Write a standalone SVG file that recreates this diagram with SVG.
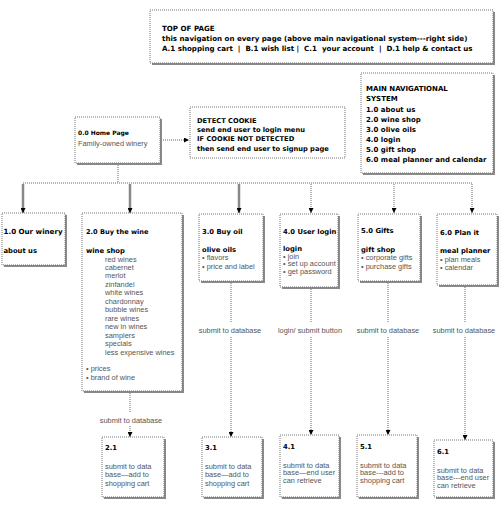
<svg xmlns="http://www.w3.org/2000/svg" width="500" height="505" viewBox="0 0 500 505">
<defs>
<marker id="arr" markerUnits="userSpaceOnUse" markerWidth="5" markerHeight="5" refX="5" refY="2.5" orient="auto" viewBox="0 0 5 5">
<path d="M0,0 L5,2.5 L0,5 Z" fill="#000"/>
</marker>
</defs>
<style>
.shadow{fill:#8a8a8a}
.box{fill:#fff;stroke:#777;stroke-width:1;stroke-dasharray:1 1}
.b{font-family:"DejaVu Sans",Verdana,sans-serif;font-weight:bold;font-size:6.8px;fill:#000}
.top{font-size:7.1px}
.nav{font-size:7px}
.ck{font-size:6.7px}
.hp{font-size:6px}
.r{font-family:"Liberation Sans",Arial,sans-serif;font-size:7.4px;fill:#555}
.dot{fill:none;stroke:#666;stroke-width:1;stroke-dasharray:1 1}
.solid{fill:none;stroke:#888;stroke-width:2.5}
</style>
<rect width="500" height="505" fill="#fff"/>

<g id="connectors">
<line class="dot" x1="161" y1="140" x2="189" y2="140" marker-end="url(#arr)"/>
<line class="dot" x1="118" y1="165" x2="118" y2="183"/>
<line class="dot" x1="23" y1="183" x2="473" y2="183"/>
<line class="solid" x1="23" y1="184" x2="23" y2="213" marker-end="url(#arr)"/>
<line class="solid" x1="130" y1="184" x2="130" y2="213" marker-end="url(#arr)"/>
<line class="solid" x1="239" y1="184" x2="239" y2="213" marker-end="url(#arr)"/>
<line class="dot" x1="311" y1="184" x2="311" y2="213" marker-end="url(#arr)"/>
<line class="dot" x1="394" y1="184" x2="394" y2="213" marker-end="url(#arr)"/>
<line class="dot" x1="472" y1="184" x2="472" y2="213" marker-end="url(#arr)"/>
<line class="dot" x1="130" y1="393" x2="130" y2="413"/>
<line class="dot" x1="130" y1="426" x2="130" y2="437" marker-end="url(#arr)"/>
<line class="dot" x1="231" y1="283" x2="231" y2="323"/>
<line class="dot" x1="231" y1="337" x2="231" y2="437" marker-end="url(#arr)"/>
<line class="dot" x1="311" y1="289" x2="311" y2="323"/>
<line class="dot" x1="311" y1="337" x2="311" y2="435" marker-end="url(#arr)"/>
<line class="dot" x1="388" y1="283" x2="388" y2="323"/>
<line class="dot" x1="388" y1="337" x2="388" y2="435" marker-end="url(#arr)"/>
<line class="dot" x1="465" y1="287" x2="465" y2="323"/>
<line class="dot" x1="465" y1="337" x2="465" y2="440" marker-end="url(#arr)"/>
<text class="r" x="131" y="422.5" text-anchor="middle">submit to database</text>
<text class="r" x="230" y="332.5" text-anchor="middle">submit to database</text>
<text class="r" x="310" y="332.5" text-anchor="middle">login/ submit button</text>
<text class="r" x="388" y="332.5" text-anchor="middle">submit to database</text>
<text class="r" x="464" y="332.5" text-anchor="middle">submit to database</text>
</g>

<g id="top-of-page">
<rect class="shadow" x="152" y="12" width="343" height="53"/>
<rect class="box" x="150" y="10" width="343" height="53"/>
<text class="b top" x="162" y="31">TOP OF PAGE</text>
<text class="b top" x="162" y="41">this navigation on every page (above main navigational system---right side)</text>
<text class="b top" x="162" y="50.5" xml:space="preserve">A.1 shopping cart  |  B.1 wish list |  C.1  your account  |  D.1 help &amp; contact us</text>
</g>

<g id="main-nav">
<rect class="shadow" x="363" y="75" width="132" height="100"/>
<rect class="box" x="361" y="73" width="132" height="100"/>
<text class="b nav" x="366" y="91">MAIN NAVIGATIONAL</text>
<text class="b nav" x="366" y="101">SYSTEM</text>
<text class="b nav" x="366" y="111.5">1.0 about us</text>
<text class="b nav" x="366" y="121.5">2.0 wine shop</text>
<text class="b nav" x="366" y="131.5">3.0 olive oils</text>
<text class="b nav" x="366" y="141.5">4.0 login</text>
<text class="b nav" x="366" y="151.5">5.0 gift shop</text>
<text class="b nav" x="366" y="161.5">6.0 meal planner and calendar</text>
</g>

<g id="home">
<rect class="shadow" x="77" y="119" width="85" height="46"/>
<rect class="box" x="75" y="117" width="85" height="46"/>
<text class="b hp" x="78" y="134.5">0.0 Home Page</text>
<text class="r" x="78" y="145.5">Family-owned winery</text>
</g>

<g id="cookie">
<rect class="box" x="190" y="107" width="155" height="51"/>
<text class="b ck" x="197" y="122.5">DETECT COOKIE</text>
<text class="b ck" x="197" y="132">send end user to login menu</text>
<text class="b ck" x="197" y="141">IF COOKIE NOT DETECTED</text>
<text class="b ck" x="197" y="150.5">then send end user to signup page</text>
</g>

<g id="n1-0">
<rect class="shadow" x="4" y="215" width="63" height="52"/>
<rect class="box" x="2" y="213" width="63" height="52"/>
<text class="b" x="3.5" y="234" style="font-size:7.1px">1.0 Our winery</text>
<text class="b" x="3.5" y="252.5">about us</text>
</g>

<g id="n2-0">
<rect class="shadow" x="84" y="215" width="100" height="178"/>
<rect class="box" x="82" y="213" width="100" height="178"/>
<text class="b" x="86" y="234" style="font-size:6.6px">2.0 Buy the wine</text>
<text class="b" x="86" y="252.5">wine shop</text>
<text class="r" x="105" y="261.5">red wines</text>
<text class="r" x="105" y="270">cabernet</text>
<text class="r" x="105" y="278.4">merlot</text>
<text class="r" x="105" y="286.9">zinfandel</text>
<text class="r" x="105" y="295.3">white wines</text>
<text class="r" x="105" y="303.8">chardonnay</text>
<text class="r" x="105" y="312.2">bubble wines</text>
<text class="r" x="105" y="320.7">rare wines</text>
<text class="r" x="105" y="329.1">new in wines</text>
<text class="r" x="105" y="337.6">samplers</text>
<text class="r" x="105" y="346">specials</text>
<text class="r" x="105" y="354.5">less expensive wines</text>
<text class="r" x="86" y="371">• prices</text>
<text class="r" x="86" y="379.5">• brand of wine</text>
</g>

<g id="n3-0">
<rect class="shadow" x="201" y="216" width="64" height="67"/>
<rect class="box" x="199" y="214" width="64" height="67"/>
<text class="b" x="202" y="234">3.0 Buy oil</text>
<text class="b" x="202" y="252">olive oils</text>
<text class="r" x="202" y="260">• flavors</text>
<text class="r" x="202" y="268.5">• price and label</text>
</g>

<g id="n4-0">
<rect class="shadow" x="282" y="216" width="58" height="73"/>
<rect class="box" x="280" y="214" width="58" height="73"/>
<text class="b" x="283" y="234">4.0 User login</text>
<text class="b" x="283" y="250.5">login</text>
<text class="r" x="283" y="258.5">• join</text>
<text class="r" x="283" y="266">• set up account</text>
<text class="r" x="283" y="274">• get password</text>
</g>

<g id="n5-0">
<rect class="shadow" x="360" y="216" width="62" height="67"/>
<rect class="box" x="358" y="214" width="62" height="67"/>
<text class="b" x="361" y="232.5">5.0 Gifts</text>
<text class="b" x="361" y="252">gift shop</text>
<text class="r" x="361" y="260">• corporate gifts</text>
<text class="r" x="361" y="268.5">• purchase gifts</text>
</g>

<g id="n6-0">
<rect class="shadow" x="439" y="216" width="60" height="71"/>
<rect class="box" x="437" y="214" width="60" height="71"/>
<text class="b" x="440" y="235">6.0 Plan it</text>
<text class="b" x="440" y="253">meal planner</text>
<text class="r" x="440" y="261.5">• plan meals</text>
<text class="r" x="440" y="269.5">• calendar</text>
</g>

<g id="n2-1">
<rect class="shadow" x="104" y="439" width="62" height="60"/>
<rect class="box" x="102" y="437" width="62" height="60"/>
<text class="b" x="105" y="449.5">2.1</text>
<text class="r" x="105" y="468.5">submit to data</text>
<text class="r" x="105" y="477">base—add to</text>
<text class="r" x="105" y="485.5">shopping cart</text>
</g>

<g id="n3-1">
<rect class="shadow" x="204" y="439" width="60" height="60"/>
<rect class="box" x="202" y="437" width="60" height="60"/>
<text class="b" x="205" y="449.5">3.1</text>
<text class="r" x="205" y="468.5">submit to data</text>
<text class="r" x="205" y="477">base—add to</text>
<text class="r" x="205" y="485.5">shopping cart</text>
</g>

<g id="n4-1">
<rect class="shadow" x="282" y="437" width="59" height="62"/>
<rect class="box" x="280" y="435" width="59" height="62"/>
<text class="b" x="283" y="448.5">4.1</text>
<text class="r" x="283" y="467.5">submit to data</text>
<text class="r" x="283" y="475">base—end user</text>
<text class="r" x="283" y="482.5">can retrieve</text>
</g>

<g id="n5-1">
<rect class="shadow" x="359" y="437" width="60" height="62"/>
<rect class="box" x="357" y="435" width="60" height="62"/>
<text class="b" x="360" y="448.5">5.1</text>
<text class="r" x="360" y="467.5">submit to data</text>
<text class="r" x="360" y="475">base---add to</text>
<text class="r" x="360" y="482.5">shopping cart</text>
</g>

<g id="n6-1">
<rect class="shadow" x="436" y="442" width="59" height="57"/>
<rect class="box" x="434" y="440" width="59" height="57"/>
<text class="b" x="437" y="454">6.1</text>
<text class="r" x="437" y="472.5">submit to data</text>
<text class="r" x="437" y="480">base---end user</text>
<text class="r" x="437" y="487.5">can retrieve</text>
</g>
</svg>
